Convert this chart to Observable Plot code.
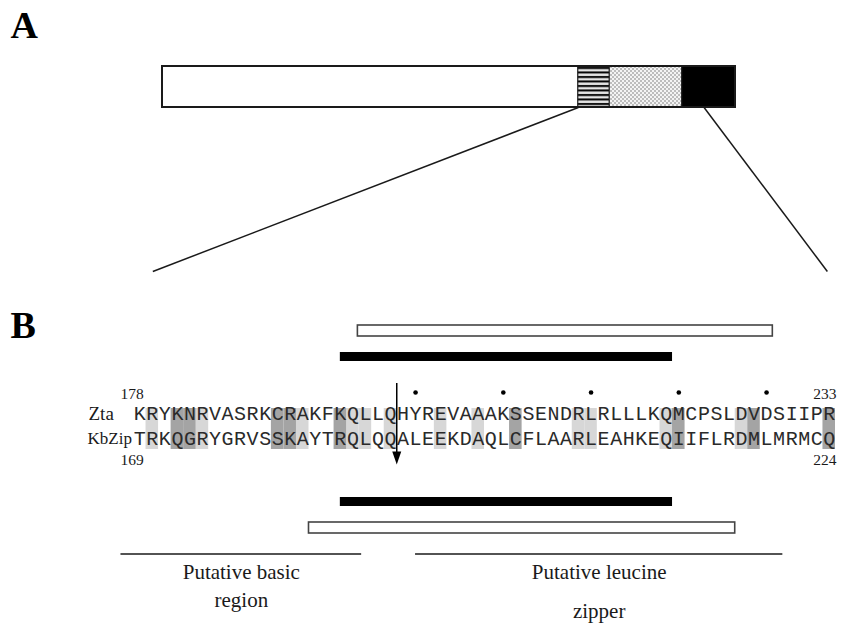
<!DOCTYPE html>
<html><head><meta charset="utf-8">
<script src="https://cdn.jsdelivr.net/npm/d3@7"></script>
<script src="https://cdn.jsdelivr.net/npm/@observablehq/plot@0.6"></script>
<style>
body{margin:0;background:#fff;}
#chart{position:relative;width:844px;height:626px;overflow:hidden;}
#chart svg{position:absolute;left:0;}
</style></head><body><div id="chart"></div>
<script>
// ---------- Panel A: KbZip protein domain map (residues) ----------
const proteinLength = 237;
const domainNames = ["N-terminal", "basic", "hinge", "zipper"];
const domainStart = [0, 172, 185, 215];
const domainEnd = [172, 185, 215, 237];
const expandFrom = [172, 224];
const expandTo = [-4, 275];

// ---------- Panel B: alignment ----------
const ztaSeq = "KRYKNRVASRKCRAKFKQLLQHYREVAAAKSSENDRLRLLLKQMCPSLDVDSIIPR";
const kbzipSeq = "TRKQGRYGRVSSKAYTRQLQQALEEKDAQLCFLAARLEAHKEQIIFLRDMLMRMCQ";
const ztaRange = [178, 233];
const kbzipRange = [169, 224];
const identicalCols = [1, 5, 13, 17, 18, 20, 24, 27, 35, 36, 42, 48];
const similarCols = [3, 4, 11, 12, 16, 30, 43, 49, 55];
const heptadCols = [22, 29, 36, 43, 50];
const arrowCol = [21];
const ztaCoilOpen = [17.9, 51];
const ztaCoilSolid = [16.5, 43];
const kbzipCoilSolid = [16.5, 43];
const kbzipCoilOpen = [14, 48];
const regionLabels = ["Putative basic", "Putative leucine"];
const regionLabels2 = ["region", "zipper"];
const regionStart = [-1, 22.5];
const regionEnd = [18.2, 51.8];

const serif = "Liberation Serif, Times New Roman, serif";
const mono = "Liberation Mono, Courier New, monospace";
const ink = "#1a1a1a";

// ---------- Panel A ----------
const domains = domainNames.map((name, i) => ({name, start: domainStart[i], end: domainEnd[i]}));
const domainFill = {"N-terminal": "#ffffff", "basic": "url(#hatchPat)", "hinge": "url(#dotPat)", "zipper": "#000000"};
const expansion = expandFrom.map((f, i) => ({from: f, to: expandTo[i]}));

const plotA = Plot.plot({
  width: 844, height: 300,
  marginLeft: 162, marginRight: 109, marginTop: 66, marginBottom: 29,
  x: {domain: [0, proteinLength], axis: null},
  y: {domain: [0, 5], reverse: true, axis: null},
  marks: [
    ...domains.map(d => Plot.rect([d], {x1: "start", x2: "end", y1: 0, y2: 1, fill: domainFill[d.name], stroke: ink, strokeWidth: 1})),
    Plot.rect([{s: 0, e: proteinLength}], {x1: "s", x2: "e", y1: 0, y2: 1, fill: "none", stroke: ink, strokeWidth: 2}),
    Plot.link(expansion, {x1: "from", y1: 1, x2: "to", y2: 5, stroke: ink, strokeWidth: 1.5}),
    Plot.text(["A"], {frameAnchor: "top-left", dx: -152, dy: -55, lineAnchor: "top", textAnchor: "start",
      fontFamily: serif, fontWeight: "bold", fontSize: 38, fill: "#000"})
  ]
});
plotA.style.top = "0px";
const defs = d3.select(plotA).insert("defs", ":first-child");
const hp = defs.append("pattern").attr("id", "hatchPat").attr("patternUnits", "userSpaceOnUse")
  .attr("width", 6).attr("height", 4.5).attr("y", 66);
hp.append("rect").attr("width", 6).attr("height", 4.5).attr("fill", "#e6e6e6");
hp.append("rect").attr("y", 1).attr("width", 6).attr("height", 2).attr("fill", "#000");
const dp = defs.append("pattern").attr("id", "dotPat").attr("patternUnits", "userSpaceOnUse")
  .attr("width", 4).attr("height", 4);
dp.append("rect").attr("width", 4).attr("height", 4).attr("fill", "#f4f4f4");
dp.append("circle").attr("cx", 1).attr("cy", 1).attr("r", 0.8).attr("fill", "#777");
dp.append("circle").attr("cx", 3).attr("cy", 3).attr("r", 0.8).attr("fill", "#777");

// ---------- Panel B ----------
const lane = {open1: [25, 36], solid1: [52, 61], dots: 92, num1: 94, zta: 113, kbzip: 138,
  shade: [108, 149], num2: 160, arrow: [83, 164], solid2: [197, 206], open2: [222, 233],
  regionLine: 253.5, label1: 272, label2a: 300, label2b: 311};

const ztaChars = ztaSeq.split("").map((c, i) => ({c, col: i}));
const kbzipChars = kbzipSeq.split("").map((c, i) => ({c, col: i}));
const regions = regionLabels.map((t, i) => ({t, t2: regionLabels2[i], s: regionStart[i], e: regionEnd[i]}));

const arrowHead = {draw(ctx) { ctx.moveTo(0, 0); ctx.lineTo(-4.5, -13); ctx.lineTo(4.5, -13); ctx.closePath(); }};

const textCommon = {fontFamily: serif, fill: ink};

const plotB = Plot.plot({
  width: 844, height: 326,
  marginLeft: 133, marginRight: 9, marginTop: 0, marginBottom: 0,
  x: {domain: [0, ztaSeq.length], axis: null},
  y: {domain: [0, 326], reverse: true, axis: null},
  marks: [
    // coiled-coil prediction bars (Zta)
    Plot.rect([ztaCoilOpen], {x1: d => d[0], x2: d => d[1], y1: lane.open1[0], y2: lane.open1[1], fill: "#fff", stroke: "#444", strokeWidth: 1.6}),
    Plot.rect([ztaCoilSolid], {x1: d => d[0], x2: d => d[1], y1: lane.solid1[0], y2: lane.solid1[1], fill: "#000"}),
    // heptad dots
    Plot.dot(heptadCols, {x: d => d + 0.5, y: lane.dots, r: 2.3, fill: "#000", stroke: null}),
    // shading
    Plot.rect(identicalCols, {x1: d => d, x2: d => d + 1, y1: lane.shade[0], y2: lane.shade[1], fill: "#d7d7d7"}),
    Plot.rect(similarCols, {x1: d => d, x2: d => d + 1, y1: lane.shade[0], y2: lane.shade[1], fill: "#a4a4a4"}),
    // residue numbers
    Plot.text([ztaRange[0]], {x: 0, y: lane.num1, text: d => d, textAnchor: "start", dx: -13, fontSize: 15.5, ...textCommon}),
    Plot.text([ztaRange[1]], {x: ztaSeq.length, y: lane.num1, text: d => d, textAnchor: "end", dx: 1, fontSize: 15.5, ...textCommon}),
    Plot.text([kbzipRange[0]], {x: 0, y: lane.num2, text: d => d, textAnchor: "start", dx: -13, fontSize: 15.5, ...textCommon}),
    Plot.text([kbzipRange[1]], {x: ztaSeq.length, y: lane.num2, text: d => d, textAnchor: "end", dx: 1, fontSize: 15.5, ...textCommon}),
    // sequence labels
    Plot.text(["Zta"], {x: 0, y: lane.zta, text: d => d, textAnchor: "start", dx: -45, fontSize: 19, ...textCommon}),
    Plot.text(["KbZip"], {x: 0, y: lane.kbzip, text: d => d, textAnchor: "start", dx: -46, fontSize: 17, ...textCommon}),
    // sequences
    Plot.text(ztaChars, {x: d => d.col + 0.5, y: lane.zta, text: "c", fontFamily: mono, fontSize: 20, fill: "#2a2a2a"}),
    Plot.text(kbzipChars, {x: d => d.col + 0.5, y: lane.kbzip, text: "c", fontFamily: mono, fontSize: 20, fill: "#2a2a2a"}),
    // arrow
    Plot.ruleX(arrowCol, {y1: lane.arrow[0], y2: lane.arrow[1] - 8, stroke: "#000", strokeWidth: 1.5}),
    Plot.dot(arrowCol, {x: d => d, y: lane.arrow[1], symbol: arrowHead, fill: "#000", stroke: null}),
    // coiled-coil prediction bars (KbZip)
    Plot.rect([kbzipCoilSolid], {x1: d => d[0], x2: d => d[1], y1: lane.solid2[0], y2: lane.solid2[1], fill: "#000"}),
    Plot.rect([kbzipCoilOpen], {x1: d => d[0], x2: d => d[1], y1: lane.open2[0], y2: lane.open2[1], fill: "#fff", stroke: "#444", strokeWidth: 1.6}),
    // region lines and labels
    Plot.ruleY(regions, {x1: "s", x2: "e", y: lane.regionLine, stroke: ink, strokeWidth: 1.5}),
    Plot.text(regions, {x: d => (d.s + d.e) / 2, y: lane.label1, text: "t", fontSize: 21, ...textCommon}),
    Plot.text(regions.slice(0, 1), {x: d => (d.s + d.e) / 2, y: lane.label2a, text: "t2", fontSize: 21, ...textCommon}),
    Plot.text(regions.slice(1), {x: d => (d.s + d.e) / 2, y: lane.label2b, text: "t2", fontSize: 21, ...textCommon}),
    Plot.text(["B"], {frameAnchor: "top-left", dx: -123, dy: 11, lineAnchor: "top", textAnchor: "start",
      fontFamily: serif, fontWeight: "bold", fontSize: 38, fill: "#000"})
  ]
});
plotB.style.top = "300px";

const chart = document.getElementById("chart");
chart.appendChild(plotA);
chart.appendChild(plotB);
</script>
</body></html>
